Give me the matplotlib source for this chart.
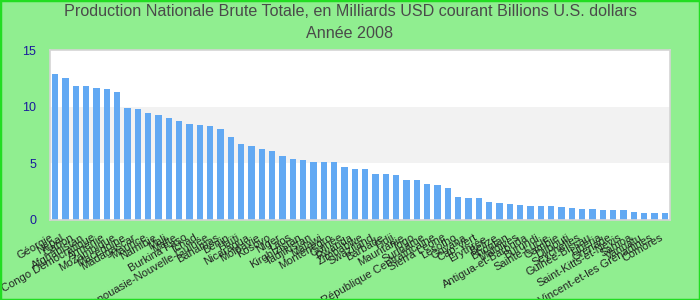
import matplotlib
matplotlib.use("Agg")
import matplotlib.pyplot as plt
from matplotlib.patches import Rectangle

plt.rcParams['font.family'] = ['Liberation Sans', 'DejaVu Sans']

title_lines = ["Production Nationale Brute Totale, en Milliards USD courant Billions U.S. dollars",
               "Année 2008"]

countries = [
    "Géorgie", "Népal", "Gabon", "Afghanistan", "Congo Démocratique", "Arménie",
    "Mozambique", "Macédoine", "Madagascar", "Maurice", "Namibie", "Mali",
    "Malte", "Burkina Faso", "Tchad", "Papouasie-Nouvelle-Guinée", "Bahamas", "Bénin",
    "Haïti", "Nicaragua", "Moldavie", "Kosovo", "Niger", "Laos",
    "Kirghizistan", "Tadjikistan", "Malawi", "Monténégro", "Guinée", "Rwanda",
    "Zimbabwe", "Swaziland", "Barbade", "Fidji", "Mauritanie", "Togo",
    "Suriname", "République Centrafricaine", "Sierra Leone", "Lesotho", "Guyana", "Cap-Vert",
    "Érythrée", "Belize", "Bhoutan", "Maldives", "Antigua-et-Barbuda", "Burundi",
    "Sainte-Lucie", "Gambie", "Djibouti", "Seychelles", "Guinée-Bissau", "Libéria",
    "Grenade", "Saint-Kitts-et-Nevis", "Samoa", "Vanuatu", "Saint-Vincent-et-les Grenadines", "Comores",
]

gdp = [
    12.88, 12.53, 11.83, 11.83, 11.65, 11.56,
    11.30, 9.88, 9.80, 9.44, 9.27, 9.00,
    8.74, 8.47, 8.38, 8.30, 8.03, 7.32,
    6.71, 6.53, 6.26, 6.09, 5.65, 5.38,
    5.29, 5.12, 5.12, 5.12, 4.68, 4.50,
    4.50, 4.06, 4.06, 3.97, 3.53, 3.53,
    3.18, 3.09, 2.82, 2.03, 1.94, 1.94,
    1.59, 1.50, 1.41, 1.32, 1.24, 1.24,
    1.24, 1.15, 1.06, 0.97, 0.97, 0.88,
    0.88, 0.88, 0.71, 0.62, 0.62, 0.62,
]

y_ticks = [0, 5, 10, 15]

fig = plt.figure(figsize=(7, 3), dpi=100, facecolor='#90ee90')
ax = fig.add_axes([50/700, 80/300, 620/700, 170/300])
ax.set_facecolor('white')

x = list(range(len(countries)))
ax.axhspan(5, 10, color='#f2f2f2', zorder=0, lw=0)
ax.bar(x, gdp, width=0.6, color='#62a9f3', zorder=2)

ax.set_xlim(-0.5, len(countries) - 0.5)
ax.set_ylim(0, 15)
ax.set_yticks(y_ticks)
ax.set_yticklabels([str(t) for t in y_ticks], color='#1a1a9c', fontsize=9)
ax.set_xticks(x)
ax.set_xticklabels(countries, rotation=30, ha='right', fontsize=8, color='#222222')
ax.tick_params(axis='both', length=0)
ax.tick_params(axis='y', pad=10)
ax.tick_params(axis='x', pad=9)
for s in ax.spines.values():
    s.set_color('#d4d4d4')
    s.set_linewidth(1.2)

fig.text(0.5, 1 - 12/300, title_lines[0], ha='center', va='center', fontsize=11.6, color='#4a4a4a')
fig.text(0.5, 1 - 34/300, title_lines[1], ha='center', va='center', fontsize=11.6, color='#4a4a4a')

fig.patches.append(Rectangle((0, 0), 1, 1, transform=fig.transFigure, fill=False,
                             edgecolor='#22dd22', linewidth=2.5, zorder=10))

fig.savefig('out.png', dpi=100, facecolor=fig.get_facecolor())
